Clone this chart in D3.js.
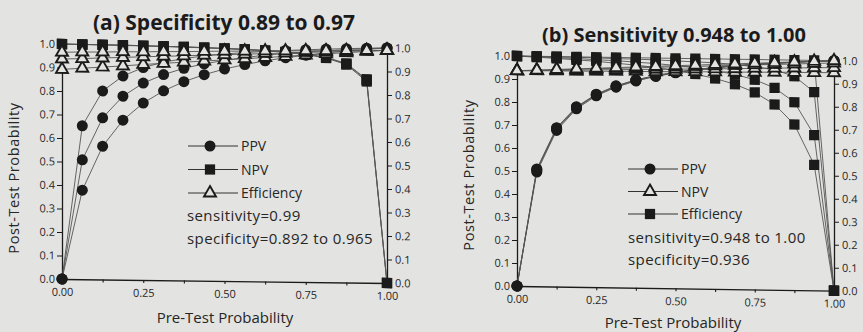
<!DOCTYPE html>
<html><head><meta charset="utf-8">
<script src="https://cdn.jsdelivr.net/npm/d3@7"></script>
<style>
html,body{margin:0;padding:0;background:#e3e3e1;}
svg{display:block;font-family:"Open Sans",Lato,sans-serif;}
</style></head><body>
<svg id="c" width="863" height="332"></svg>
<script>
// ---------- shared ----------
const pretest = [0,0.0625,0.125,0.1875,0.25,0.3125,0.375,0.4375,0.5,0.5625,0.625,0.6875,0.75,0.8125,0.875,0.9375,1];
const xTickValues = [0,0.125,0.25,0.375,0.5,0.625,0.75,0.875,1];
const xTickLabels = ["0.00","","0.25","","0.50","","0.75","","1.00"];
const yTickValues = [0,0.1,0.2,0.3,0.4,0.5,0.6,0.7,0.8,0.9,1.0];
const yTickLabels = ["0.0","0.1","0.2","0.3","0.4","0.5","0.6","0.7","0.8","0.9","1.0"];

// ---------- panel (a): sensitivity 0.99, specificity 0.892 / 0.936 / 0.965 ----------
const aTitle = "(a) Specificity 0.89 to 0.97";
const aPPV_sp892 = [0,.379,.567,.679,.753,.806,.846,.877,.902,.922,.939,.953,.965,.976,.985,.993,1];
const aPPV_sp936 = [0,.508,.688,.781,.838,.875,.903,.923,.939,.952,.963,.971,.979,.985,.991,.996,1];
const aPPV_sp965 = [0,.653,.802,.867,.904,.928,.944,.957,.966,.973,.979,.984,.988,.992,.995,.998,1];
const aNPV_sp892 = [1,.999,.998,.997,.996,.995,.993,.991,.989,.986,.982,.976,.968,.954,.927,.856,0];
const aNPV_sp936 = [1,.999,.999,.998,.997,.995,.994,.992,.989,.986,.983,.977,.969,.956,.930,.862,0];
const aNPV_sp965 = [1,.999,.999,.998,.997,.995,.994,.992,.990,.987,.983,.978,.970,.957,.932,.866,0];
const aEff_sp892 = [.892,.898,.904,.910,.917,.923,.929,.935,.941,.947,.953,.959,.966,.972,.978,.984,.990];
const aEff_sp936 = [.936,.939,.943,.946,.950,.953,.956,.960,.963,.966,.970,.973,.977,.980,.983,.987,.990];
const aEff_sp965 = [.965,.967,.968,.970,.971,.973,.974,.976,.978,.979,.981,.982,.984,.985,.987,.988,.990];
const aLegend = [["circle","PPV"],["square","NPV"],["triangle","Efficiency"]];
const aNotes = ["sensitivity=0.99","specificity=0.892 to 0.965"];

// ---------- panel (b): specificity 0.936, sensitivity 0.948 / 0.97 / 0.99 / 1.00 ----------
const bTitle = "(b) Sensitivity 0.948 to 1.00";
const bPPV_se948  = [0,.497,.679,.774,.832,.871,.899,.920,.937,.950,.961,.970,.978,.985,.990,.996,1];
const bPPV_se970  = [0,.503,.684,.778,.835,.873,.901,.922,.938,.951,.962,.971,.979,.985,.991,.996,1];
const bPPV_se990  = [0,.508,.688,.781,.838,.875,.903,.923,.939,.952,.963,.971,.979,.985,.991,.996,1];
const bPPV_se1000 = [0,.510,.691,.783,.839,.877,.904,.924,.940,.953,.963,.972,.979,.985,.991,.996,1];
const bNPV_se948  = [1,.996,.992,.987,.982,.975,.968,.959,.947,.933,.915,.891,.857,.806,.720,.546,0];
const bNPV_se970  = [1,.998,.995,.993,.989,.986,.981,.976,.969,.960,.949,.934,.912,.878,.817,.675,0];
const bNPV_se990  = [1,.999,.999,.998,.997,.995,.994,.992,.989,.986,.983,.977,.969,.956,.930,.862,0];
const bNPV_se1000 = [1,1,1,1,1,1,1,1,1,1,1,1,1,1,1,1,0];
const bEff_se948  = [.936,.937,.938,.938,.939,.940,.941,.941,.942,.943,.944,.944,.945,.946,.947,.947,.948];
const bEff_se970  = [.936,.938,.940,.942,.945,.947,.949,.951,.953,.955,.957,.959,.962,.964,.966,.968,.970];
const bEff_se990  = [.936,.939,.943,.946,.950,.953,.956,.960,.963,.966,.970,.973,.977,.980,.983,.987,.990];
const bEff_se1000 = [.936,.940,.944,.948,.952,.956,.960,.964,.968,.972,.976,.980,.984,.988,.992,.996,1];
const bLegend = [["circle","PPV"],["triangle","NPV"],["square","Efficiency"]];
const bNotes = ["sensitivity=0.948 to 1.00","specificity=0.936"];

const axisTitleX = "Pre-Test Probability";
const axisTitleY = "Post-Test Probability";

// ---------- drawing ----------
const INK = "#1b1b1b", LINE = "#555", BG = "#e3e3e1", TXT = "#262626";
const svg = d3.select("#c");

function marker(g, kind, cx, cy) {
  if (kind === "circle") {
    g.append("circle").attr("cx", cx).attr("cy", cy).attr("r", 5.5).attr("fill", INK);
  } else if (kind === "square") {
    g.append("path").attr("d", d3.symbol(d3.symbolSquare, 105)())
      .attr("transform", `translate(${cx},${cy})`).attr("fill", INK);
  } else {
    g.append("path").attr("d", d3.symbol(d3.symbolTriangle, 62)())
      .attr("transform", `translate(${cx},${cy})`).attr("fill", BG)
      .attr("stroke", INK).attr("stroke-width", 1.9);
  }
}

function panel(cfg) {
  const x = d3.scaleLinear().domain([0, 1]).range([cfg.x0, cfg.x1]);
  const y = d3.scaleLinear().domain([0, 1]).range([cfg.y0, cfg.y1]);
  const t = Math.tan(cfg.skew * Math.PI / 180);
  const g = svg.append("g").attr("transform", `translate(0,${-cfg.x0 * t}) skewY(${cfg.skew})`);

  const styleAxis = sel => {
    sel.selectAll("path.domain").attr("stroke", INK).attr("stroke-width", 1.3);
    sel.selectAll(".tick line").attr("stroke", INK).attr("stroke-width", 1.1);
    sel.selectAll(".tick text").attr("fill", TXT).style("font-size", "11px")
      .style("font-family", "'Open Sans', Lato, sans-serif");
  };
  g.append("g").attr("transform", `translate(${cfg.x0},0)`)
    .call(d3.axisLeft(y).tickValues(yTickValues).tickFormat((d, i) => yTickLabels[i])
      .tickSize(5).tickSizeOuter(0).tickPadding(2)).call(styleAxis);
  g.append("g").attr("transform", `translate(${cfg.x1},0)`)
    .call(d3.axisRight(y).tickValues(yTickValues).tickFormat((d, i) => yTickLabels[i])
      .tickSize(5).tickSizeOuter(0).tickPadding(3)).call(styleAxis);
  g.append("g").attr("transform", `translate(0,${cfg.y0})`)
    .call(d3.axisBottom(x).tickValues(xTickValues).tickFormat((d, i) => xTickLabels[i])
      .tickSize(3).tickSizeOuter(0).tickPadding(6)).call(styleAxis);

  const line = d3.line().x((d, i) => x(pretest[i])).y(d => y(d));
  const all = [...cfg.circles, ...cfg.squares, ...cfg.triangles];
  g.append("g").selectAll("path").data(all).join("path")
    .attr("d", line).attr("fill", "none").attr("stroke", LINE).attr("stroke-width", 0.9);

  const mg = g.append("g");
  cfg.circles.forEach(s => s.forEach((v, i) => marker(mg, "circle", x(pretest[i]), y(v))));
  cfg.squares.forEach(s => s.forEach((v, i) => marker(mg, "square", x(pretest[i]), y(v))));
  cfg.triangles.forEach(s => s.forEach((v, i) => marker(mg, "triangle", x(pretest[i]), y(v))));

  svg.append("text").attr("x", cfg.titleX).attr("y", cfg.titleY).attr("text-anchor", "middle")
    .attr("fill", INK).style("font-size", cfg.titleSize).style("font-weight", "700").text(cfg.title);
  svg.append("text").attr("x", cfg.xTitleX).attr("y", cfg.xTitleY).attr("text-anchor", "middle")
    .attr("fill", TXT).style("font-size", "15px").text(axisTitleX);
  svg.append("text").attr("transform", `translate(${cfg.yTitleX},${cfg.yTitleY}) rotate(-90)`)
    .attr("text-anchor", "middle").attr("fill", TXT).style("font-size", "14.5px")
    .style("letter-spacing", "0.6px").text(axisTitleY);

  const lg = svg.append("g");
  cfg.legend.forEach((d, i) => {
    const ly = cfg.legY + i * cfg.legDY;
    lg.append("line").attr("x1", cfg.legX).attr("x2", cfg.legX + 50).attr("y1", ly).attr("y2", ly)
      .attr("stroke", "#333").attr("stroke-width", 1);
    marker(lg, d[0], cfg.legX + 22, ly);
    lg.append("text").attr("x", cfg.legX + 53).attr("y", ly + 5).attr("fill", TXT)
      .style("font-size", "14px").text(d[1]);
  });
  cfg.notes.forEach((n, i) => {
    lg.append("text").attr("x", cfg.noteX).attr("y", cfg.noteY + i * cfg.noteDY).attr("fill", TXT)
      .style("font-size", "15px").style("letter-spacing", "0.4px").text(n);
  });
}

panel({
  x0: 62, x1: 387, y0: 279, y1: 44, skew: 0.7,
  circles: [aPPV_sp892, aPPV_sp936, aPPV_sp965],
  squares: [aNPV_sp892, aNPV_sp936, aNPV_sp965],
  triangles: [aEff_sp892, aEff_sp936, aEff_sp965],
  title: aTitle, titleX: 224, titleY: 30, titleSize: "21px",
  xTitleX: 225, xTitleY: 323, yTitleX: 19, yTitleY: 178,
  legend: aLegend, legX: 188, legY: 146, legDY: 23.5,
  notes: aNotes, noteX: 187, noteY: 221, noteDY: 23
});

panel({
  x0: 517, x1: 834, y0: 286, y1: 56, skew: 0.85,
  circles: [bPPV_se948, bPPV_se970, bPPV_se990, bPPV_se1000],
  squares: [bNPV_se948, bNPV_se970, bNPV_se990, bNPV_se1000],
  triangles: [bEff_se948, bEff_se970, bEff_se990, bEff_se1000],
  title: bTitle, titleX: 674, titleY: 42, titleSize: "20px",
  xTitleX: 673, xTitleY: 328, yTitleX: 474, yTitleY: 175,
  legend: bLegend, legX: 628, legY: 169, legDY: 22.5,
  notes: bNotes, noteX: 628, noteY: 243, noteDY: 21.5
});
</script>
</body></html>
